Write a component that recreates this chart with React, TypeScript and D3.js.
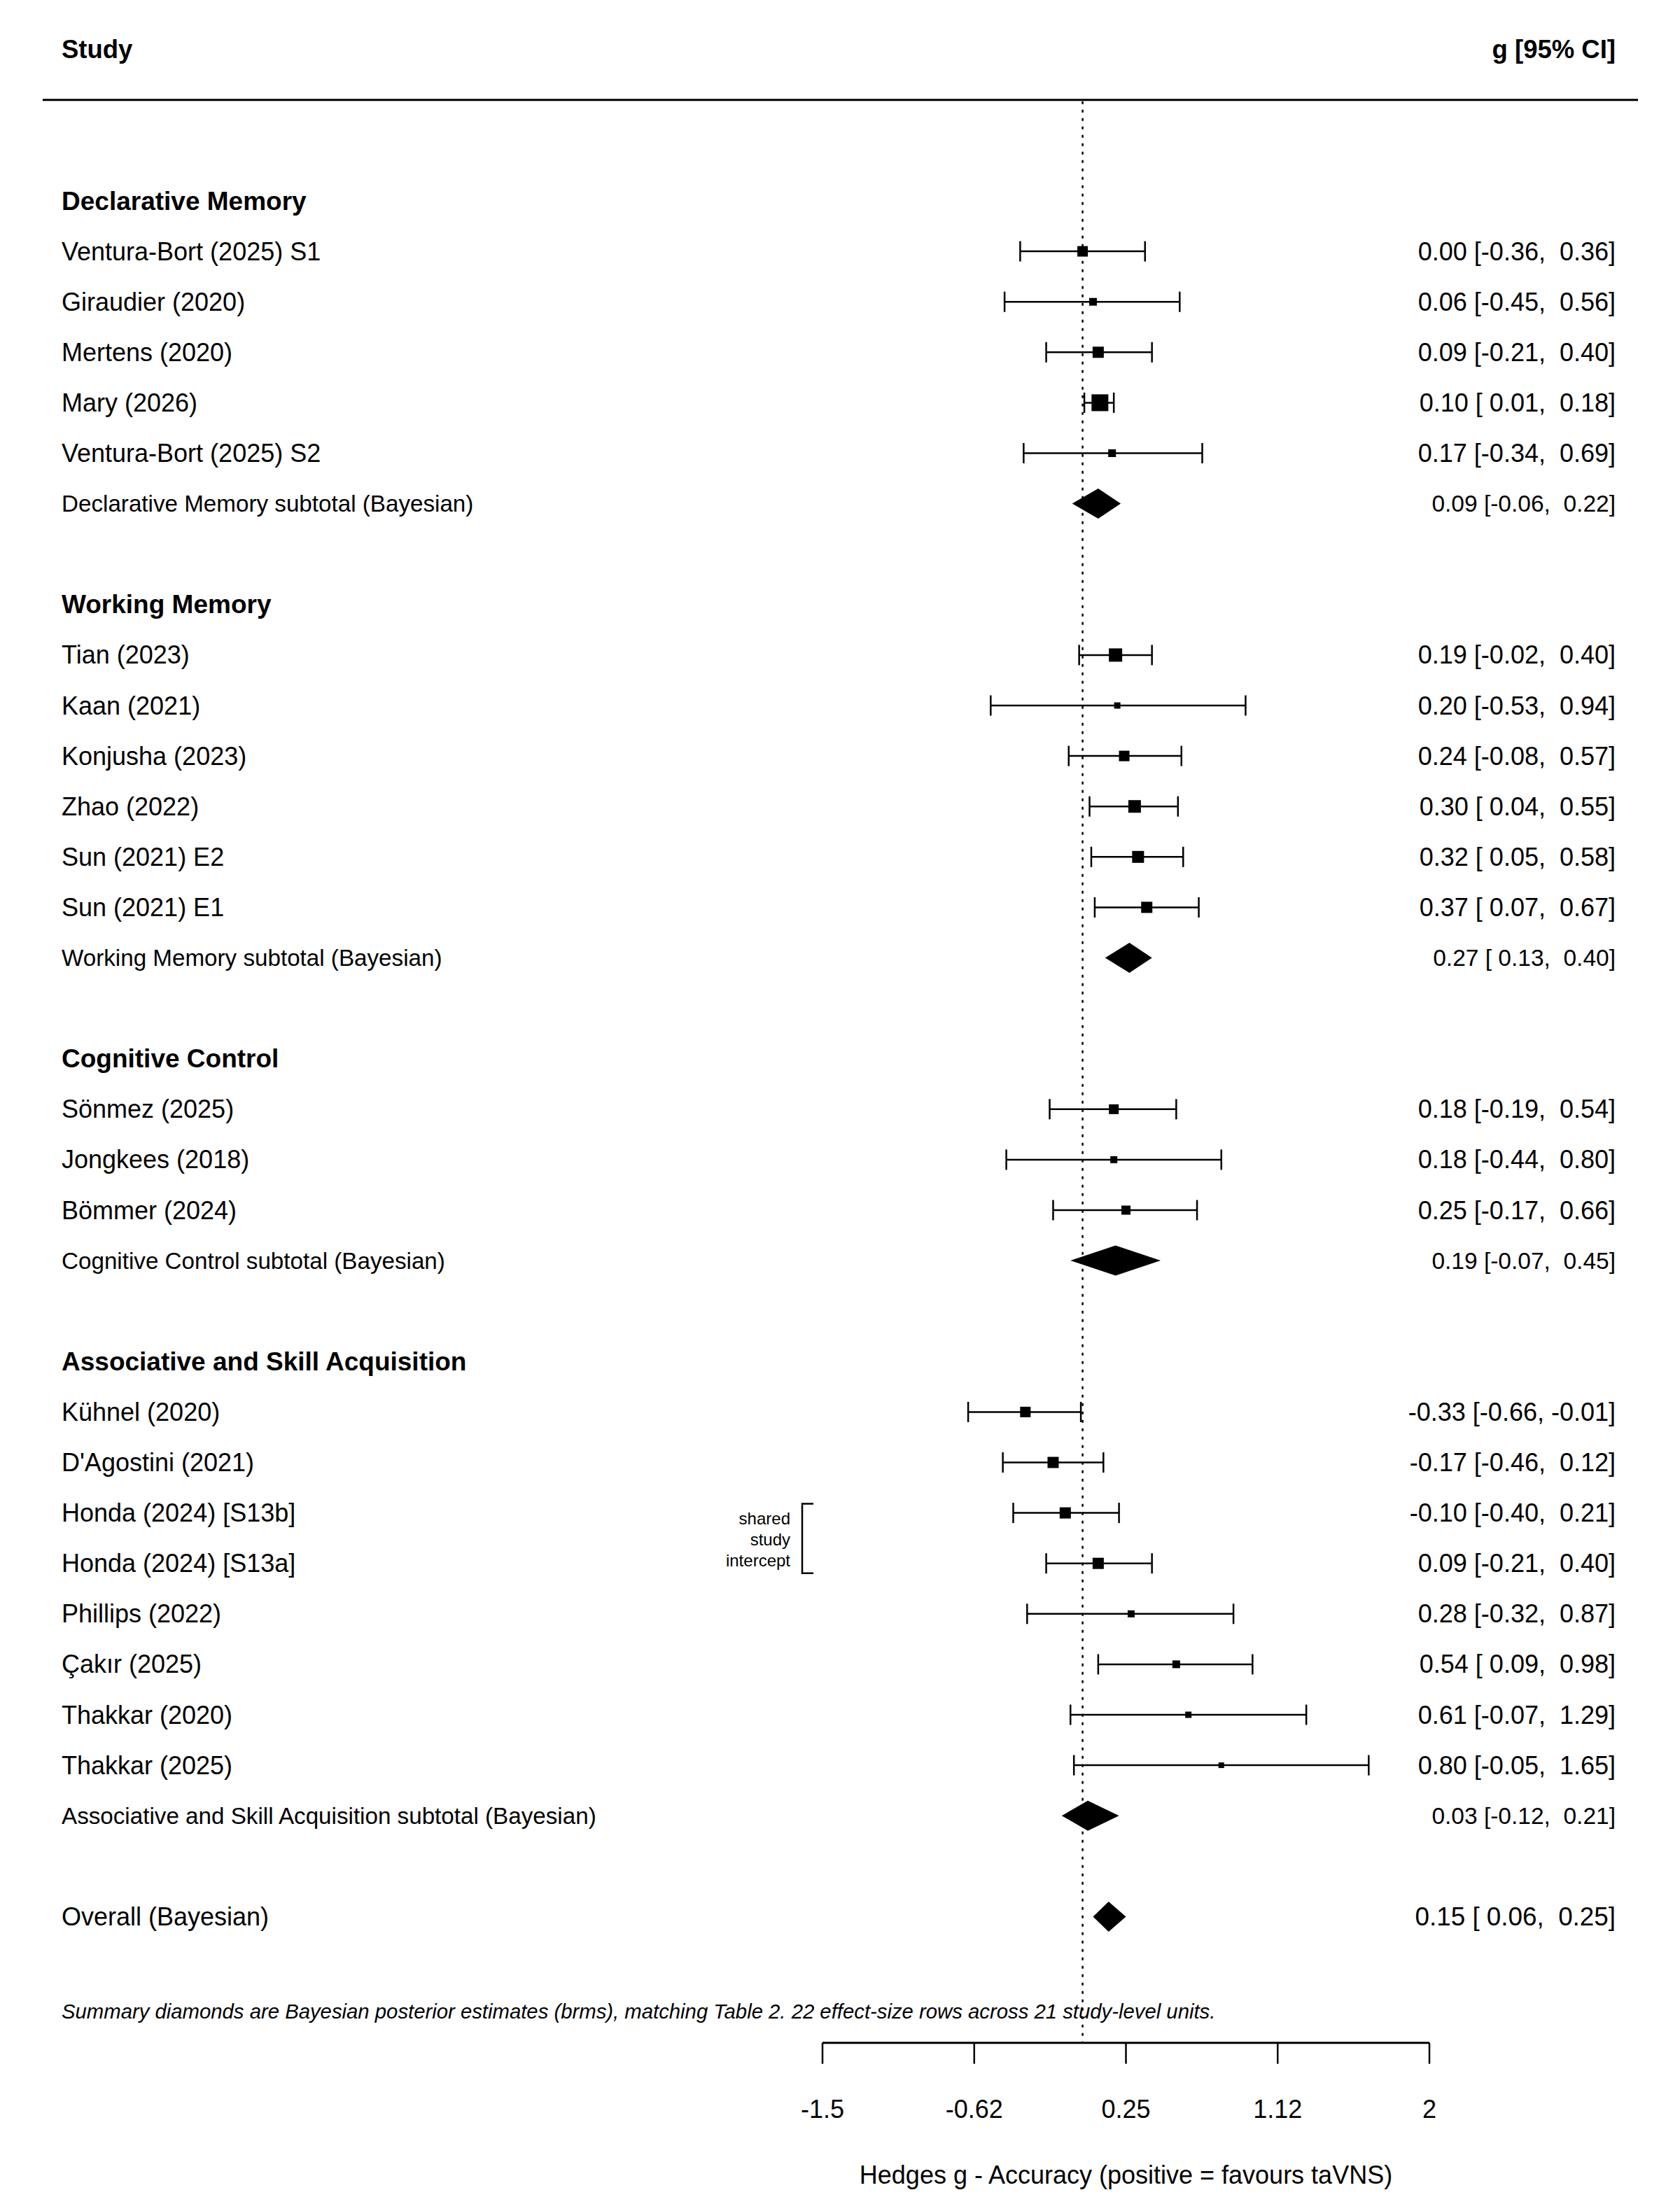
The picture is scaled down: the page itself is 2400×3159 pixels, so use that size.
import React from "react";
import * as d3 from "d3";

// ---------- data ----------
const groupNames = [
  "Declarative Memory",
  "Working Memory",
  "Cognitive Control",
  "Associative and Skill Acquisition",
];

const studyNames = [
  "Ventura-Bort (2025) S1", "Giraudier (2020)", "Mertens (2020)", "Mary (2026)", "Ventura-Bort (2025) S2",
  "Tian (2023)", "Kaan (2021)", "Konjusha (2023)", "Zhao (2022)", "Sun (2021) E2", "Sun (2021) E1",
  "Sönmez (2025)", "Jongkees (2018)", "Bömmer (2024)",
  "Kühnel (2020)", "D'Agostini (2021)", "Honda (2024) [S13b]", "Honda (2024) [S13a]", "Phillips (2022)",
  "Çakır (2025)", "Thakkar (2020)", "Thakkar (2025)",
];
const studyGroup = [0, 0, 0, 0, 0, 1, 1, 1, 1, 1, 1, 2, 2, 2, 3, 3, 3, 3, 3, 3, 3, 3];
const studyEst = [0.0, 0.06, 0.09, 0.10, 0.17, 0.19, 0.20, 0.24, 0.30, 0.32, 0.37, 0.18, 0.18, 0.25, -0.33, -0.17, -0.10, 0.09, 0.28, 0.54, 0.61, 0.80];
const studyLo = [-0.36, -0.45, -0.21, 0.01, -0.34, -0.02, -0.53, -0.08, 0.04, 0.05, 0.07, -0.19, -0.44, -0.17, -0.66, -0.46, -0.40, -0.21, -0.32, 0.09, -0.07, -0.05];
const studyHi = [0.36, 0.56, 0.40, 0.18, 0.69, 0.40, 0.94, 0.57, 0.55, 0.58, 0.67, 0.54, 0.80, 0.66, -0.01, 0.12, 0.21, 0.40, 0.87, 0.98, 1.29, 1.65];
// relative marker weight (square side)
const studyWeight = [15, 11, 16, 24, 11, 19, 9, 15, 18, 17, 16, 14, 10, 13, 15, 16, 16, 16, 10, 11, 9, 8];

const subtotalEst = [0.09, 0.27, 0.19, 0.03];
const subtotalLo = [-0.06, 0.13, -0.07, -0.12];
const subtotalHi = [0.22, 0.40, 0.45, 0.21];

const overallEst = 0.15;
const overallLo = 0.06;
const overallHi = 0.25;

const tickValues = [-1.5, -0.625, 0.25, 1.125, 2];
const tickLabels = ["-1.5", "-0.62", "0.25", "1.12", "2"];

const footnote =
  "Summary diamonds are Bayesian posterior estimates (brms), matching Table 2. 22 effect-size rows across 21 study-level units.";
const axisTitle = "Hedges g - Accuracy (positive = favours taVNS)";
const bracketLines = ["shared", "study", "intercept"];

// ---------- helpers ----------
const f2 = (v: number) => {
  const s = (Math.abs(v) < 0.005 ? 0 : v).toFixed(2);
  return s.padStart(5, " ");
};
const ciText = (e: number, l: number, h: number) => `${f2(e).trim()} [${f2(l)}, ${f2(h)}]`;

const FONT = "'Liberation Sans', Arial, Helvetica, sans-serif";

export default function App() {
  const W = 2400;
  const H = 3159;
  const x = d3.scaleLinear().domain([-1.5, 2]).range([1175, 2042]);
  const y = d3.scaleLinear().domain([0, 1]).range([287, 359.1]);

  type Row =
    | { kind: "heading"; r: number; label: string }
    | { kind: "study"; r: number; i: number }
    | { kind: "subtotal"; r: number; g: number };
  const rows: Row[] = [];
  let r = 0;
  groupNames.forEach((g, gi) => {
    rows.push({ kind: "heading", r, label: g });
    r++;
    studyNames.forEach((_, i) => {
      if (studyGroup[i] === gi) {
        rows.push({ kind: "study", r, i });
        r++;
      }
    });
    rows.push({ kind: "subtotal", r, g: gi });
    r += 2;
  });
  const overallRow = r;
  const axisY = y(overallRow + 2.5);
  const footY = y(overallRow + 1.88);

  const labelX = 88;
  const rightX = 2308;
  const capH = 14.5;
  const diamH = 43;

  const diamond = (e: number, l: number, h: number, yy: number) =>
    `M${x(l)},${yy} L${x(e)},${yy - diamH / 2} L${x(h)},${yy} L${x(e)},${yy + diamH / 2} Z`;

  const hondaRows = rows.filter(
    (rw) => rw.kind === "study" && studyNames[(rw as any).i].startsWith("Honda")
  ) as { kind: "study"; r: number; i: number }[];
  const bTop = y(hondaRows[0].r) - 13;
  const bBot = y(hondaRows[1].r) + 14;
  const bMid = (y(hondaRows[0].r) + y(hondaRows[1].r)) / 2 + 2;

  return (
    <svg
      width={W}
      height={H}
      viewBox={`0 0 ${W} ${H}`}
      style={{ position: "absolute", left: 0, top: 0, background: "#fff", fontFamily: FONT }}
    >
      <rect x={0} y={0} width={W} height={H} fill="#fff" />
      {/* header */}
      <text x={labelX} y={y(-3)} fontSize={36.5} fontWeight="bold" dominantBaseline="central">
        Study
      </text>
      <text x={rightX} y={y(-3)} fontSize={36.5} fontWeight="bold" textAnchor="end" dominantBaseline="central">
        g [95% CI]
      </text>
      <line x1={61} x2={2340} y1={y(-2)} y2={y(-2)} stroke="#000" strokeWidth={3} />

      {/* reference line */}
      <line
        x1={x(0)}
        x2={x(0)}
        y1={y(-2) + 2}
        y2={axisY}
        stroke="#000"
        strokeWidth={2.5}
        strokeDasharray="4 8"
      />

      {rows.map((rw, k) => {
        const yy = y(rw.r);
        if (rw.kind === "heading") {
          return (
            <text key={k} x={labelX} y={yy} fontSize={37} fontWeight="bold" dominantBaseline="central">
              {rw.label}
            </text>
          );
        }
        if (rw.kind === "study") {
          const i = rw.i;
          const s = studyWeight[i];
          return (
            <g key={k}>
              <text x={labelX} y={yy} fontSize={36} dominantBaseline="central">
                {studyNames[i]}
              </text>
              <line x1={x(studyLo[i])} x2={x(studyHi[i])} y1={yy} y2={yy} stroke="#000" strokeWidth={2.5} />
              <line x1={x(studyLo[i])} x2={x(studyLo[i])} y1={yy - capH} y2={yy + capH} stroke="#000" strokeWidth={2.5} />
              <line x1={x(studyHi[i])} x2={x(studyHi[i])} y1={yy - capH} y2={yy + capH} stroke="#000" strokeWidth={2.5} />
              <rect x={x(studyEst[i]) - s / 2} y={yy - s / 2} width={s} height={s} fill="#000" />
              <text
                x={rightX}
                y={yy}
                fontSize={36}
                textAnchor="end"
                dominantBaseline="central"
                style={{ whiteSpace: "pre" }}
              >
                {ciText(studyEst[i], studyLo[i], studyHi[i])}
              </text>
            </g>
          );
        }
        const g = rw.g;
        return (
          <g key={k}>
            <text x={labelX} y={yy} fontSize={33.2} dominantBaseline="central">
              {`${groupNames[g]} subtotal (Bayesian)`}
            </text>
            <path d={diamond(subtotalEst[g], subtotalLo[g], subtotalHi[g], yy)} fill="#000" />
            <text
              x={rightX}
              y={yy}
              fontSize={33.5}
              textAnchor="end"
              dominantBaseline="central"
              style={{ whiteSpace: "pre" }}
            >
              {ciText(subtotalEst[g], subtotalLo[g], subtotalHi[g])}
            </text>
          </g>
        );
      })}

      {/* overall */}
      <text x={labelX} y={y(overallRow)} fontSize={36} dominantBaseline="central">
        Overall (Bayesian)
      </text>
      <path d={diamond(overallEst, overallLo, overallHi, y(overallRow))} fill="#000" />
      <text
        x={rightX}
        y={y(overallRow)}
        fontSize={36.8}
        textAnchor="end"
        dominantBaseline="central"
        style={{ whiteSpace: "pre" }}
      >
        {ciText(overallEst, overallLo, overallHi)}
      </text>

      {/* bracket */}
      <path
        d={`M${1162},${bTop} L${1146},${bTop} L${1146},${bBot} L${1162},${bBot}`}
        fill="none"
        stroke="#000"
        strokeWidth={2.5}
      />
      {bracketLines.map((t, k) => (
        <text key={t} x={1129} y={bMid + (k - 1) * 30} fontSize={24} textAnchor="end" dominantBaseline="central">
          {t}
        </text>
      ))}

      {/* footnote */}
      <text x={labelX} y={footY} fontSize={29.3} fontStyle="italic" dominantBaseline="central">
        {footnote}
      </text>

      {/* axis */}
      <line x1={x(tickValues[0])} x2={x(tickValues[tickValues.length - 1])} y1={axisY} y2={axisY} stroke="#000" strokeWidth={3} />
      {tickValues.map((t, k) => (
        <g key={k}>
          <line x1={x(t)} x2={x(t)} y1={axisY} y2={axisY + 30} stroke="#000" strokeWidth={2.5} />
          <text x={x(t)} y={3013} fontSize={36} textAnchor="middle" dominantBaseline="central">
            {tickLabels[k]}
          </text>
        </g>
      ))}
      <text x={(x(-1.5) + x(2)) / 2} y={3107} fontSize={36} textAnchor="middle" dominantBaseline="central">
        {axisTitle}
      </text>
    </svg>
  );
}
